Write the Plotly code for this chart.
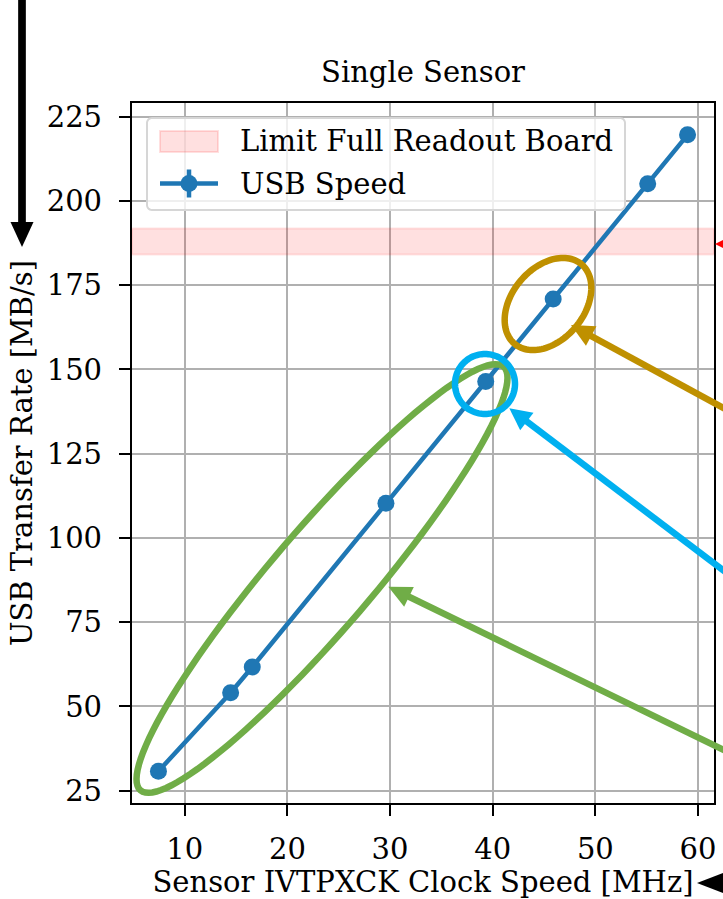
import numpy as np
import plotly.graph_objects as go

# ---------------- data ----------------
clock_mhz = [7.44, 14.47, 16.58, 29.6, 39.32, 45.89, 55.1, 58.98]
usb_rate = [30.8, 54.1, 61.7, 110.3, 146.4, 170.9, 205.1, 219.6]
limit_low = 184.1
limit_high = 191.8
x_ticks = [10, 20, 30, 40, 50, 60]
y_ticks = [25, 50, 75, 100, 125, 150, 175, 200, 225]

title_text = "Single Sensor"
x_label = "Sensor IVTPXCK Clock Speed [MHz]"
y_label = "USB Transfer Rate [MB/s]"
legend_limit = "Limit Full Readout Board"
legend_usb = "USB Speed"

# ---------------- layout geometry ----------------
W, H = 723, 899
L, R, T, B = 132, 714, 103, 803
FONT = "DejaVu Serif"
FS = 29

def margins(vals, frac=0.05):
    lo, hi = min(vals), max(vals)
    d = (hi - lo) * frac
    return lo - d, hi + d

xr = margins(clock_mhz)
yr = margins(usb_rate)

def px(x):
    return (x - L) / (R - L)

def py(y):
    return (B - y) / (B - T)

def ellipse_path(cx, cy, a, b, theta_deg, n=120):
    th = np.deg2rad(theta_deg)
    pts = []
    for t in np.linspace(0, 2 * np.pi, n, endpoint=False):
        X = cx + a * np.cos(th) * np.cos(t) - b * np.sin(th) * np.sin(t)
        Y = cy - (a * np.sin(th) * np.cos(t) + b * np.cos(th) * np.sin(t))
        pts.append((px(X), py(Y)))
    return "M%.5f,%.5f " % pts[0] + " ".join("L%.5f,%.5f" % p for p in pts[1:]) + " Z"

def rounded_rect_path(x0, y0, x1, y1, r, n=8):
    pts = []
    corners = [(x1 - r, y0 + r, -90, 0), (x1 - r, y1 - r, 0, 90),
               (x0 + r, y1 - r, 90, 180), (x0 + r, y0 + r, 180, 270)]
    for cx, cy, a0, a1 in corners:
        for a in np.linspace(np.deg2rad(a0), np.deg2rad(a1), n):
            pts.append((px(cx + r * np.cos(a)), py(cy + r * np.sin(a))))
    return "M%.5f,%.5f " % pts[0] + " ".join("L%.5f,%.5f" % p for p in pts[1:]) + " Z"

def arrow_shapes(tip, tail, color, lw, head_len, head_w):
    tx, ty = tip
    ux, uy = tail[0] - tx, tail[1] - ty
    n = np.hypot(ux, uy)
    ux, uy = ux / n, uy / n
    bx, by = tx + ux * head_len, ty + uy * head_len
    nx, ny = -uy, ux
    p1 = (bx + nx * head_w / 2, by + ny * head_w / 2)
    p2 = (bx - nx * head_w / 2, by - ny * head_w / 2)
    sx, sy = tx + ux * (head_len * 0.8), ty + uy * (head_len * 0.8)
    return [
        dict(type="line", xref="paper", yref="paper",
             x0=px(sx), y0=py(sy), x1=px(tail[0]), y1=py(tail[1]),
             line=dict(color=color, width=lw), layer="above"),
        dict(type="path", xref="paper", yref="paper",
             path="M%.5f,%.5f L%.5f,%.5f L%.5f,%.5f Z" % (px(tx), py(ty), px(p1[0]), py(p1[1]), px(p2[0]), py(p2[1])),
             fillcolor=color, line=dict(color=color, width=0), layer="above"),
    ]

GREEN = "#70AD47"
CYAN = "#00B0F0"
GOLD = "#BF9000"
BLUE = "#1f77b4"
BAND_FILL = "rgba(255,0,0,0.12)"
BAND_EDGE = "rgba(255,0,0,0.10)"

fig = go.Figure()

# limit band
fig.add_trace(go.Scatter(
    x=[xr[0], xr[1], xr[1], xr[0], xr[0]],
    y=[limit_low, limit_low, limit_high, limit_high, limit_low],
    mode="lines", fill="toself", fillcolor=BAND_FILL,
    line=dict(color=BAND_EDGE, width=2),
    name=legend_limit, hoverinfo="skip", showlegend=False,
))

# USB speed
fig.add_trace(go.Scatter(
    x=clock_mhz, y=usb_rate, mode="lines+markers",
    line=dict(color=BLUE, width=4.5),
    marker=dict(color=BLUE, size=17),
    name=legend_usb, showlegend=False,
))

shapes = []
annotations = []

# ---- legend (drawn) ----
shapes.append(dict(type="path", xref="paper", yref="paper",
                   path=rounded_rect_path(147, 118, 625, 210, 5),
                   fillcolor="rgba(255,255,255,0.8)",
                   line=dict(color="#d6d6d6", width=2), layer="above"))
shapes.append(dict(type="rect", xref="paper", yref="paper",
                   x0=px(160), x1=px(218), y0=py(131), y1=py(152),
                   fillcolor=BAND_FILL, line=dict(color="rgba(255,0,0,0.12)", width=2),
                   layer="above"))
shapes.append(dict(type="line", xref="paper", yref="paper",
                   x0=px(160), x1=px(218), y0=py(183.5), y1=py(183.5),
                   line=dict(color=BLUE, width=4.5), layer="above"))
shapes.append(dict(type="line", xref="paper", yref="paper",
                   x0=px(189), x1=px(189), y0=py(169.5), y1=py(197.5),
                   line=dict(color=BLUE, width=4.5), layer="above"))
shapes.append(dict(type="circle", xref="paper", yref="paper",
                   x0=px(180.5), x1=px(197.5), y0=py(175), y1=py(192),
                   fillcolor=BLUE, line=dict(color=BLUE, width=0), layer="above"))
annotations.append(dict(text=legend_limit, xref="paper", yref="paper",
                        x=px(238), y=py(141), xanchor="left", yanchor="middle",
                        showarrow=False, font=dict(family=FONT, size=FS, color="black")))
annotations.append(dict(text=legend_usb, xref="paper", yref="paper",
                        x=px(238), y=py(184), xanchor="left", yanchor="middle",
                        showarrow=False, font=dict(family=FONT, size=FS, color="black")))

# ---- ellipses / circle callouts ----
shapes.append(dict(type="path", xref="paper", yref="paper",
                   path=ellipse_path(322, 578.5, 279, 50, 49.4),
                   line=dict(color=GREEN, width=6.5), layer="above"))
shapes.append(dict(type="path", xref="paper", yref="paper",
                   path=ellipse_path(548, 304, 52, 36, 50),
                   line=dict(color=GOLD, width=6.5), layer="above"))
shapes.append(dict(type="path", xref="paper", yref="paper",
                   path=ellipse_path(485, 384, 30, 30, 0),
                   line=dict(color=CYAN, width=6.5), layer="above"))
# ---- arrows ----
shapes += arrow_shapes((571, 325), (740, 417), GOLD, 6.5, 23, 22)
shapes += arrow_shapes((509.3, 408.3), (740, 583), CYAN, 6.5, 22, 22)
shapes += arrow_shapes((388.3, 586.7), (740, 758), GREEN, 6.5, 23, 22)
shapes += arrow_shapes((22, 247), (22, -10), "black", 7.7, 25, 23)
shapes += arrow_shapes((697, 883), (745, 883), "black", 7, 26, 20)
shapes += arrow_shapes((715, 244), (735, 244), "red", 2, 9, 9)

fig.update_layout(
    width=W, height=H,
    margin=dict(l=L, r=W - R, t=T, b=H - B, pad=0),
    paper_bgcolor="white", plot_bgcolor="white",
    font=dict(family=FONT, size=FS, color="black"),
    title=dict(text=title_text, x=px(423), xref="paper", xanchor="center",
               y=(H - 72) / H, yanchor="middle",
               font=dict(family=FONT, size=FS, color="black")),
    showlegend=False,
    shapes=shapes,
    annotations=annotations,
)

axis_common = dict(
    showgrid=True, gridcolor="#b0b0b0", gridwidth=2.3,
    showline=True, linecolor="black", linewidth=2.3, mirror=True,
    ticks="outside", ticklen=11, tickwidth=2.3, tickcolor="black",
    tickfont=dict(family=FONT, size=FS, color="black"),
    zeroline=False, automargin=False,
)
fig.update_xaxes(
    range=list(xr), tickvals=x_ticks, ticktext=[str(v) for v in x_ticks],
    ticklabelstandoff=8,
    title=dict(text=x_label, standoff=8, font=dict(family=FONT, size=FS, color="black")),
    **axis_common,
)
fig.update_yaxes(
    range=list(yr), tickvals=y_ticks, ticktext=[str(v) for v in y_ticks],
    ticklabelstandoff=11,
    title=dict(text=y_label, standoff=6, font=dict(family=FONT, size=FS, color="black")),
    **axis_common,
)

fig.write_html("out.html", config={"displayModeBar": False},
               post_script="document.body.style.margin='0px';")
